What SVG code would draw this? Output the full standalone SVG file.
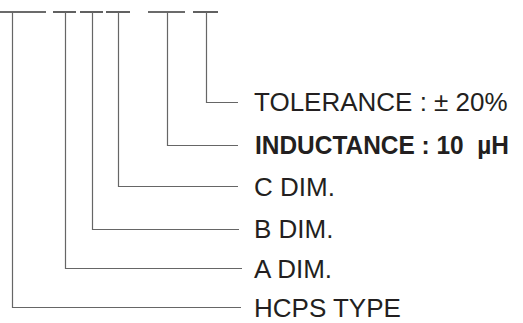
<svg xmlns="http://www.w3.org/2000/svg" width="523" height="323" viewBox="0 0 523 323">
<style>
.dash{stroke:#3a3a3a;stroke-width:1.6;fill:none}
.lead{stroke:#666;stroke-width:1.2;fill:none}
.lbl{font-family:"Liberation Sans",Arial,sans-serif;font-size:26px;fill:#231f20}
.bold{font-family:"Liberation Sans",Arial,sans-serif;font-size:25px;font-weight:bold;fill:#231f20}
</style>
<rect width="523" height="323" fill="#fff"/>
<g id="code-dashes">
<line class="dash" x1="0" y1="12" x2="46" y2="12"/>
<line class="dash" x1="53" y1="12" x2="76" y2="12"/>
<line class="dash" x1="80" y1="12" x2="103" y2="12"/>
<line class="dash" x1="106" y1="12" x2="130" y2="12"/>
<line class="dash" x1="148" y1="12" x2="185" y2="12"/>
<line class="dash" x1="193" y1="12" x2="218" y2="12"/>
</g>
<g id="connectors">
<polyline class="lead" points="206.5,12 206.5,102.5 238,102.5"/>
<polyline class="lead" points="167.5,12 167.5,145.5 238,145.5"/>
<polyline class="lead" points="118.5,12 118.5,186.5 238,186.5"/>
<polyline class="lead" points="92.5,12 92.5,229.5 239,229.5"/>
<polyline class="lead" points="65.5,12 65.5,268.5 242,268.5"/>
<polyline class="lead" points="12.5,12 12.5,307.5 241,307.5"/>
</g>
<g id="tolerance"><text class="lbl" x="254" y="111">TOLERANCE : ± 20%</text></g>
<g id="inductance"><text class="bold" x="255" y="154" textLength="254" lengthAdjust="spacingAndGlyphs" xml:space="preserve">INDUCTANCE : 10  µH</text></g>
<g id="c-dim"><text class="lbl" x="254" y="196">C DIM.</text></g>
<g id="b-dim"><text class="lbl" x="254" y="238">B DIM.</text></g>
<g id="a-dim"><text class="lbl" x="254" y="278">A DIM.</text></g>
<g id="hcps-type"><text class="lbl" x="254" y="317">HCPS TYPE</text></g>
</svg>
